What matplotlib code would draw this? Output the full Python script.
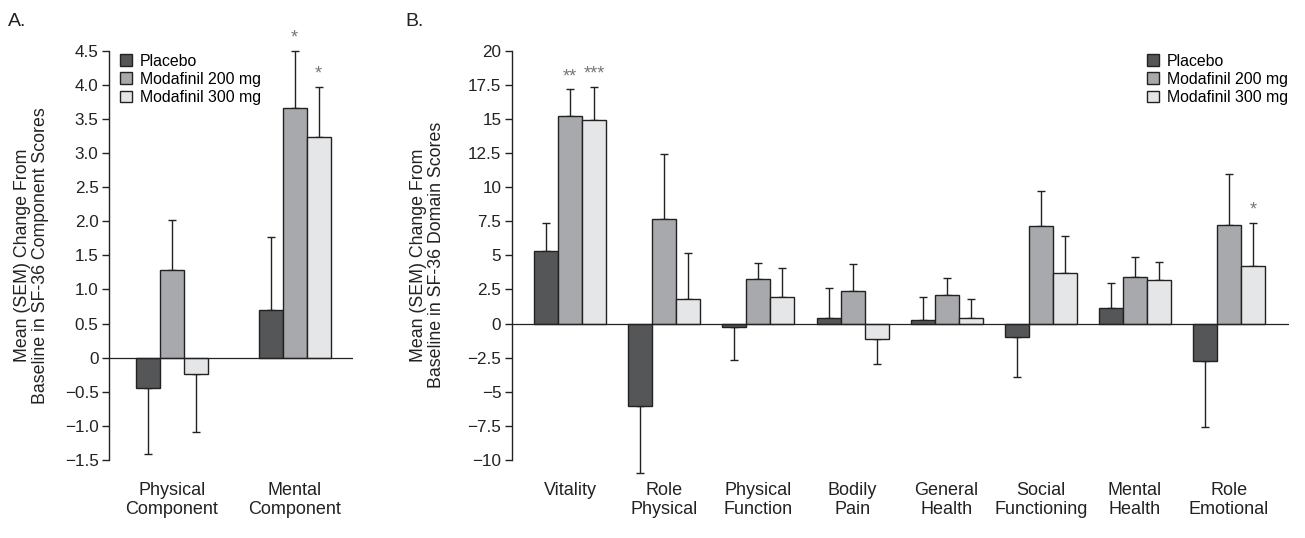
import matplotlib
matplotlib.use("Agg")
from matplotlib import pyplot as plt
from matplotlib.patches import Patch
import numpy as np

plt.rcParams['font.family'] = ['Liberation Sans', 'DejaVu Sans']

groups = ["Placebo", "Modafinil 200 mg", "Modafinil 300 mg"]
colors = ["#555658", "#a8a9ac", "#e5e6e7"]

# panel A: component scores
comp_labels = ["Physical\nComponent", "Mental\nComponent"]
comp_mean = [[-0.44, 0.70], [1.29, 3.66], [-0.245, 3.23]]
comp_sem = [[0.97, 1.07], [0.73, 0.84], [0.85, 0.74]]
comp_stars = {(1, 1): "*", (2, 1): "*"}

# panel B: domain scores
dom_labels = ["Vitality", "Role\nPhysical", "Physical\nFunction", "Bodily\nPain",
              "General\nHealth", "Social\nFunctioning", "Mental\nHealth", "Role\nEmotional"]
dom_mean = [[5.30, -6.06, -0.29, 0.37, 0.24, -0.98, 1.15, -2.74],
            [15.17, 7.65, 3.23, 2.37, 2.08, 7.16, 3.40, 7.21],
            [14.90, 1.76, 1.95, -1.12, 0.44, 3.71, 3.18, 4.25]]
dom_sem = [[2.10, 4.89, 2.35, 2.20, 1.67, 2.93, 1.81, 4.83],
           [1.98, 4.76, 1.17, 1.98, 1.27, 2.52, 1.46, 3.74],
           [2.45, 3.42, 2.13, 1.86, 1.32, 2.69, 1.36, 3.15]]
dom_stars = {(1, 0): "**", (2, 0): "***", (2, 7): "*"}

ink = "#222222"


def draw(ax, labels, means, sems, stars, width, ylim, ticks, fmt, xlim):
    x = np.arange(len(labels))
    for i in range(3):
        m = np.array(means[i])
        s = np.array(sems[i])
        pos = x + (i - 1) * width
        ax.bar(pos, m, width, color=colors[i], edgecolor=ink, linewidth=1.0,
               zorder=2, label=groups[i])
        lower = np.where(m < 0, s, 0)
        upper = np.where(m >= 0, s, 0)
        eb = ax.errorbar(pos, m, yerr=[lower, upper], fmt="none", ecolor=ink,
                         elinewidth=1.0, capsize=2.8, capthick=1.0, zorder=1)
        for art in list(eb[1]) + list(eb[2]):
            art.set_clip_on(False)
        for (g, c), txt in stars.items():
            if g == i:
                top = m[c] + s[c]
                ax.annotate(txt, (pos[c], top), xytext=(0, 3), textcoords="offset points",
                            ha="center", va="bottom", fontsize=13, color="#777777")
    ax.axhline(0, color=ink, linewidth=0.9, zorder=3)
    ax.set_xlim(*xlim)
    ax.set_ylim(*ylim)
    ax.set_yticks(ticks)
    ax.set_yticklabels([fmt(t) for t in ticks])
    ax.set_xticks(x)
    ax.set_xticklabels(labels, fontsize=13, color=ink, linespacing=1.12)
    ax.tick_params(axis="x", length=0, pad=16)
    ax.tick_params(axis="y", direction="out", length=5, width=1.0, color=ink,
                   labelsize=12.3, labelcolor=ink, pad=2.5)
    for sp in ["top", "right", "bottom"]:
        ax.spines[sp].set_visible(False)
    ax.spines["left"].set_color(ink)
    ax.spines["left"].set_linewidth(1.0)


def fmt_a(t):
    if abs(t) < 1e-9:
        return "0"
    return ("%.1f" % t).replace("-", "\u2212")


def fmt_b(t):
    if abs(t) < 1e-9:
        return "0"
    return ("%g" % t).replace("-", "\u2212")


fig = plt.figure(figsize=(13.05, 5.38), dpi=100)
axA = fig.add_axes([0.0835, 0.145, 0.187, 0.761])
axB = fig.add_axes([0.3921, 0.145, 0.5954, 0.761])

draw(axA, comp_labels, comp_mean, comp_sem, comp_stars, 0.195,
     (-1.5, 4.5), np.arange(-1.5, 4.51, 0.5), fmt_a, (-0.51, 1.474))
draw(axB, dom_labels, dom_mean, dom_sem, dom_stars, 0.255,
     (-10, 20), np.arange(-10, 20.01, 2.5), fmt_b, (-0.623, 7.635))

axA.set_ylabel("Mean (SEM) Change From\nBaseline in SF-36 Component Scores",
               fontsize=12.8, color=ink, linespacing=1.1)
axA.yaxis.set_label_coords(-0.245, 0.5)
axB.set_ylabel("Mean (SEM) Change From\nBaseline in SF-36 Domain Scores",
               fontsize=12.8, color=ink, linespacing=1.1)
axB.yaxis.set_label_coords(-0.086, 0.5)

handles = [Patch(facecolor=colors[i], edgecolor=ink, linewidth=1.0, label=groups[i])
           for i in range(3)]
axA.legend(handles=handles, loc="upper left", bbox_to_anchor=(0.02, 1.008),
           frameon=False, fontsize=11.4, handlelength=0.75, handleheight=0.75,
           handletextpad=0.5, labelspacing=0.2, borderaxespad=0)
axB.legend(handles=handles, loc="upper left", bbox_to_anchor=(0.81, 1.008),
           frameon=False, fontsize=11.4, handlelength=0.75, handleheight=0.75,
           handletextpad=0.5, labelspacing=0.2, borderaxespad=0)

fig.text(8 / 1305, 1 - 21 / 538, "A.", fontsize=14, color=ink, va="center")
fig.text(405 / 1305, 1 - 21 / 538, "B.", fontsize=14, color=ink, va="center")

fig.savefig("out.png", dpi=100)
